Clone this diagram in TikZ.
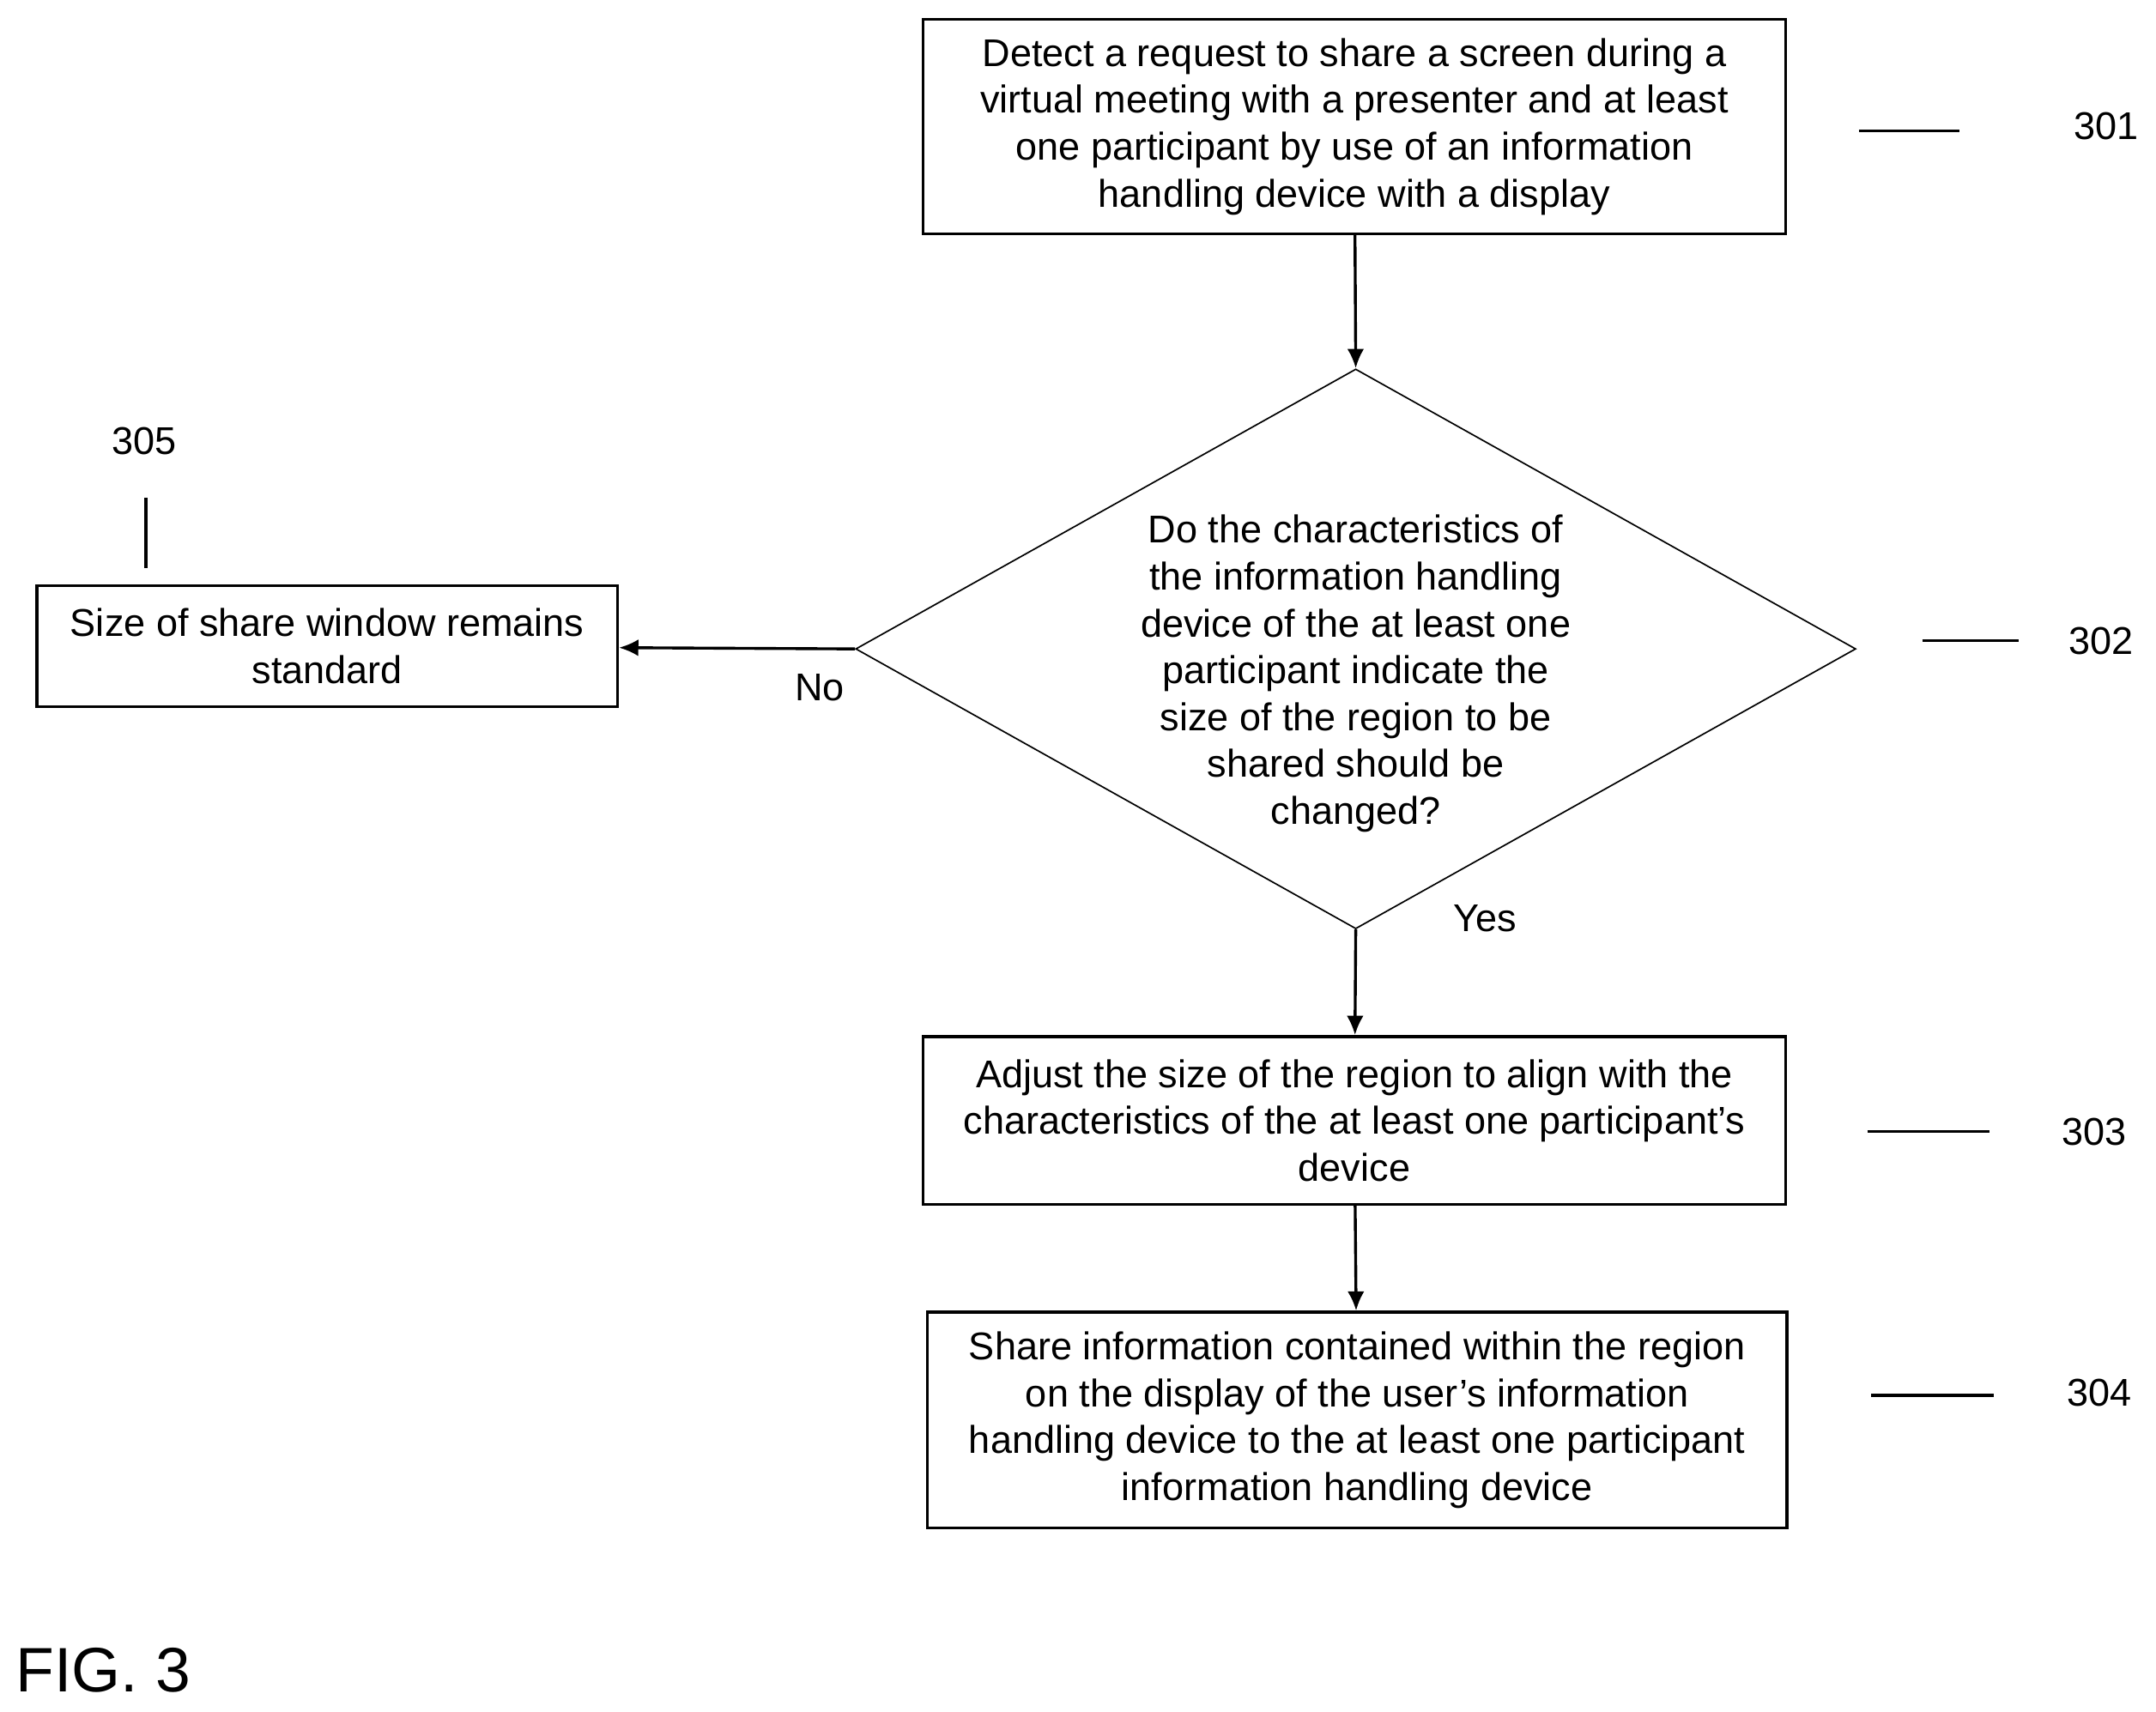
\documentclass[tikz,border=0pt]{standalone}
\usepackage{fontspec}
\setmainfont{Liberation Sans}
\usetikzlibrary{shapes.geometric,arrows.meta}
\begin{document}
\begin{tikzpicture}[x=0.01cm,y=-0.01cm,line width=0.6pt,
    every node/.style={font=\fontsize{8}{9.7}\selectfont},
    process/.style={draw,inner sep=0,align=center},
    flow/.style={-{Latex[length=4pt,width=3.5pt]}}]
  \useasboundingbox (0,0) rectangle (1568,1245);
  % boxes
  \node[process,minimum width=6.27cm,minimum height=1.56cm] (detect) at (985,92)
    {Detect a request to share a screen during a\\virtual meeting with a presenter and at least\\one participant by use of an information\\handling device with a display};
  \node[draw,line width=0.3pt,diamond,aspect=1.786,minimum width=7.27cm,minimum height=4.07cm,inner sep=0] (decide) at (986,472) {};
  \node[align=center] (question) at (986,490)
    {Do the characteristics of\\the information handling\\device of the at least one\\participant indicate the\\size of the region to be\\shared should be\\changed?};
  \node[process,minimum width=4.22cm,minimum height=0.88cm] (standard) at (238,470)
    {Size of share window remains\\standard};
  \node[process,minimum width=6.27cm,minimum height=1.22cm] (adjust) at (985,815)
    {Adjust the size of the region to align with the\\characteristics of the at least one participant's\\device};
  \node[process,minimum width=6.25cm,minimum height=1.57cm] (share) at (987,1033)
    {Share information contained within the region\\on the display of the user's information\\handling device to the at least one participant\\information handling device};
  % connectors
  \draw[flow] (detect) -- (decide.north);
  \draw[flow] (decide.west) -- (standard);
  \draw[flow] (decide.south) -- (adjust);
  \draw[flow] (adjust) -- (share);
  \node (no) at (596,500) {No};
  \node (yes) at (1080,668) {Yes};
  % reference numerals
  \node (n301) at (1532,92) {301};
  \node (n302) at (1528,466) {302};
  \node (n303) at (1523,823) {303};
  \node (n304) at (1527,1013) {304};
  \node (n305) at (105,321) {305};
  \draw (1352,95) -- (1425,95);
  \draw (1398,466) -- (1468,466);
  \draw (1358,823) -- (1447,823);
  \draw (1361,1015) -- (1450,1015);
  \draw (106,362) -- (106,413);
  \node[font=\fontsize{13}{15}\selectfont] (fig) at (75,1215) {FIG. 3};
\end{tikzpicture}
\end{document}
